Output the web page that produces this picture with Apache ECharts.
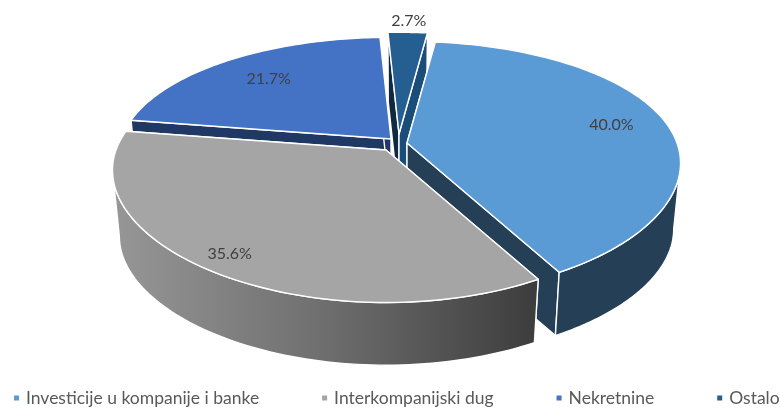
<!DOCTYPE html>
<html>
<head>
<meta charset="utf-8">
<style>
  html, body { margin: 0; background: #fff; }
  #chart { width: 780px; height: 409px; }
</style>
<script src="https://cdn.jsdelivr.net/npm/echarts@6/dist/echarts.min.js"></script>
</head>
<body>
<div id="chart"></div>
<script>
const categories = ['Investicije u kompanije i banke', 'Interkompanijski dug', 'Nekretnine', 'Ostalo']
const values = [40.0, 35.6, 21.7, 2.7]
const labels = ['40.0%', '35.6%', '21.7%', '2.7%']

// look of each slice, same order as categories
const topColors = ['#5B9BD5', '#A5A5A5', '#4472C4', '#255E91']
const wallColors = ['#243F56', ['#979797', '#6E6E6E', '#3C3C3C'], '#1F3864', '#1A4D78']
const startFaceColors = ['#243F56', '#555555', '#1F3864', '#0F2A40']
const endFaceColors = ['#243F56', '#555555', '#1F3864', '#1A4D78']
const apexes = [[407, 143], [386, 150], [391, 139], [399, 134]]
const labelReach = [0.79, 0.89, 0.74, 1.14]
const drawOrder = [2, 3, 0, 1]   // painter order: back slices first

// tilted disc with a bit of perspective
const START_ANGLE = 7
const RX = 270, RY = 122, PERSP_X = 0.16, PERSP_Y = 0.2
const DEPTH = 66.5, BOTTOM_SCALE = 0.975
const total = values.reduce((a, b) => a + b, 0)

// angles where the disc outline turns from front to back
const EDGE_RIGHT = Math.acos(-PERSP_X) * 180 / Math.PI
const EDGE_LEFT = 360 - EDGE_RIGHT

function project(apex, angle, r, lower) {
  const rad = angle * Math.PI / 180
  const u = r * Math.sin(rad), v = r * Math.cos(rad)
  const s = lower ? BOTTOM_SCALE : 1
  return [
    apex[0] + s * RX * u / (1 + PERSP_X * v),
    apex[1] + (lower ? DEPTH : 0) - s * RY * v / (1 + PERSP_Y * v)
  ]
}

function arc(apex, from, to, lower) {
  const pts = []
  for (let i = 0; i <= 80; i++) pts.push(project(apex, from + (to - from) * i / 80, 1, lower))
  return pts
}

function face(points, fill) {
  return {
    type: 'polygon', silent: true,
    shape: { points },
    style: { fill, stroke: '#fff', lineWidth: 1.4, lineJoin: 'round' }
  }
}

function renderSlice(idx) {
  const before = values.slice(0, idx).reduce((a, b) => a + b, 0)
  const from = START_ANGLE + before / total * 360
  const to = from + values[idx] / total * 360
  const apex = apexes[idx]
  const low = [apex[0], apex[1] + DEPTH]

  const wall = wallColors[idx]
  const wallFill = Array.isArray(wall)
    ? new echarts.graphic.LinearGradient(0, 0, 1, 0, wall.map((c, i) => ({ offset: i / (wall.length - 1), color: c })))
    : wall

  const mid = (from + to) / 2
  const at = project(apex, mid, labelReach[idx], false)

  const cuts = [
    face([apex, project(apex, from, 1), project(apex, from, 1, true), low], startFaceColors[idx]),
    face([apex, project(apex, to, 1), project(apex, to, 1, true), low], endFaceColors[idx])
  ]
  // only the part of the rim between the outline angles faces the viewer
  const wallFrom = Math.max(from, EDGE_RIGHT), wallTo = Math.min(to, EDGE_LEFT)
  const sides = wallFrom < wallTo
    ? cuts.concat([face(arc(apex, wallFrom, wallTo).concat(arc(apex, wallTo, wallFrom, true)), wallFill)])
    : cuts

  return {
    type: 'group',
    children: sides.concat([
      face([apex].concat(arc(apex, from, to)), topColors[idx]),
      {
        type: 'text', silent: true,
        style: {
          x: at[0], y: at[1], text: labels[idx],
          align: 'center', verticalAlign: 'middle',
          fill: '#404040', font: '16px Lato'
        }
      }
    ])
  }
}

const chart = echarts.init(document.getElementById('chart'))
chart.setOption({
  animation: false,
  backgroundColor: '#fff',
  legend: {
    data: categories,
    left: 14, top: 389, padding: 0,
    icon: 'rect',
    itemWidth: 5, itemHeight: 5, itemGap: 63,
    selectedMode: false,
    textStyle: { color: '#595959', fontSize: 17.5, fontFamily: 'Lato', padding: [0, 0, 0, 2] }
  },
  series: categories.map((name, i) => ({
    name,
    type: 'custom',
    coordinateSystem: 'none',
    z: 2 + drawOrder.indexOf(i),
    itemStyle: { color: topColors[i] },
    data: [values[i]],
    renderItem: () => renderSlice(i)
  }))
})
</script>
</body>
</html>
